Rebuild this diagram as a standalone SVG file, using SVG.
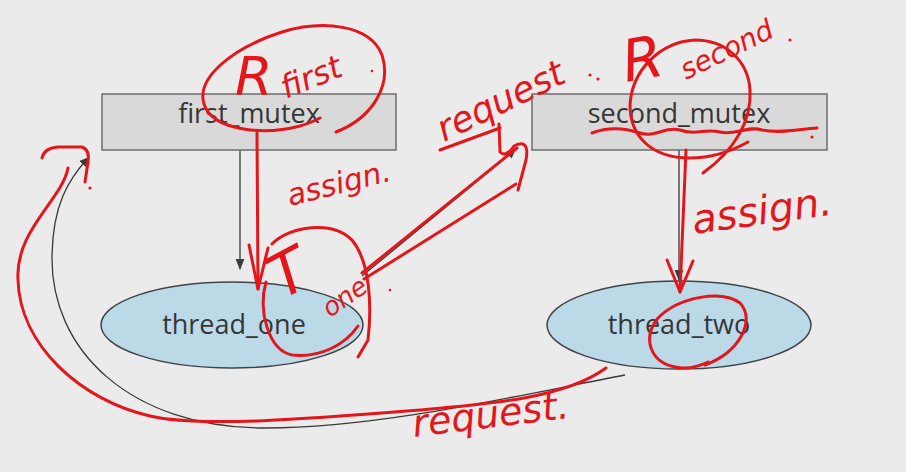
<svg xmlns="http://www.w3.org/2000/svg" width="906" height="472" viewBox="0 0 906 472">
  <defs>
    <style>
      .bg { fill: #ebebeb; }
      .box { fill: #d9d9d9; stroke: #6e6e6e; stroke-width: 1.5; }
      .ell { fill: #bcd9e8; stroke: #3f4448; stroke-width: 1.5; }
      .lbl { font-family: "Open Sans", "Liberation Sans", sans-serif; font-size: 27px; fill: #363636; text-anchor: middle; }
      .conn { fill: none; stroke: #3a3a3a; stroke-width: 1.3; }
      .ink { fill: none; stroke: #e3161b; stroke-width: 3; stroke-linecap: round; stroke-linejoin: round; }
      .hand { font-family: "DejaVu Sans", "Liberation Sans", sans-serif; fill: #e3161b; font-style: italic; }
      .dot { fill: #e3161b; }
    </style>
    <marker id="arr" viewBox="0 0 10 10" refX="9" refY="5" markerWidth="9" markerHeight="9" markerUnits="userSpaceOnUse" orient="auto">
      <path d="M0,0 L10,5 L0,10 z" fill="#3a3a3a"/>
    </marker>
    <marker id="arrL" viewBox="0 0 10 10" refX="9" refY="5" markerWidth="11" markerHeight="11" markerUnits="userSpaceOnUse" orient="auto">
      <path d="M0,1 L10,5 L0,9 z" fill="#3a3a3a"/>
    </marker>
  </defs>

  <rect class="bg" x="0" y="0" width="906" height="472"/>

  <g id="connectors">
    <circle cx="240" cy="136" r="2.5" fill="#3a3a3a"/>
    <path class="conn" d="M240,136 L240,269" marker-end="url(#arrL)"/>
    <circle cx="679" cy="136" r="2.5" fill="#3a3a3a"/>
    <path class="conn" d="M679,136 L679,280" marker-end="url(#arrL)"/>
    <path class="conn" d="M362,276 L515,150" marker-end="url(#arr)"/>
    <path class="conn" d="M625,375 C 520,395 380,428 265,428 C 130,428 50,350 52,255 C 53,205 68,180 88,158" marker-end="url(#arr)"/>
  </g>

  <g id="first_mutex">
    <rect class="box" x="102" y="94" width="294" height="56"/>
    <text class="lbl" x="249" y="123">first_mutex</text>
  </g>
  <g id="second_mutex">
    <rect class="box" x="532" y="94" width="295" height="56"/>
    <text class="lbl" x="679" y="123">second_mutex</text>
  </g>
  <g id="thread_one">
    <ellipse class="ell" cx="232" cy="325" rx="131" ry="43"/>
    <text class="lbl" x="234" y="334">thread_one</text>
  </g>
  <g id="thread_two">
    <ellipse class="ell" cx="679" cy="325" rx="132" ry="44"/>
    <text class="lbl" x="679" y="334">thread_two</text>
  </g>

  <g id="annotations">
    <!-- R first ellipse -->
    <path class="ink" d="M336,132 C 372,118 392,86 382,55 C 370,24 322,20 282,32 C 232,48 196,78 204,104 C 212,130 262,136 300,126 C 308,124 314,121 320,118"/>
    <text class="hand" x="235" y="95" font-size="54">R</text>
    <text class="hand" x="286" y="99" font-size="32" transform="rotate(-22 286 99)">first</text>
    <circle class="dot" cx="372" cy="71" r="1.3"/>
    <!-- assign arrow left -->
    <path class="ink" d="M257,133 L258,289"/>
    <path class="ink" d="M249,245 L258,289 L268,248"/>
    <text class="hand" x="290" y="206" font-size="30" transform="rotate(-14 290 206)">assign.</text>
    <!-- T one circle -->
    <path class="ink" d="M272,244 C 290,226 332,220 352,240 C 370,262 372,305 368,340 L358,357"/>
    <path class="ink" d="M266,282 C 258,310 268,350 292,355 C 320,358 345,345 358,326"/>
    <text class="hand" x="282" y="300" font-size="60" transform="rotate(-28 282 300)">T</text>
    <text class="hand" x="330" y="318" font-size="26" transform="rotate(-35 330 318)">one</text>
    <circle class="dot" cx="390" cy="290" r="1.3"/>
    <!-- request arrow to second_mutex -->
    <path class="ink" d="M362,273 L517,148"/>
    <path class="ink" d="M364,279 L516,184"/>
    <path class="ink" d="M499,124 L500,152 Q506,158 514,146 Q530,138 526,160 L518,190"/>
    <path class="ink" d="M440,150 L500,128"/>
    <text class="hand" x="444" y="142" font-size="36" transform="rotate(-26 444 142)">request</text>
    <circle class="dot" cx="590" cy="75" r="1.6"/>
    <circle class="dot" cx="598" cy="79" r="1.6"/>
    <!-- R second circle -->
    <path class="ink" d="M703,173 C 735,150 752,120 750,90 C 748,60 725,40 695,40 C 660,42 632,70 630,105 C 630,135 650,158 690,158 C 710,158 730,152 748,142"/>
    <text class="hand" x="626" y="82" font-size="58" transform="rotate(-10 626 82)">R</text>
    <text class="hand" x="686" y="80" font-size="28" transform="rotate(-26 686 80)">second</text>
    <circle class="dot" cx="790" cy="40" r="1.6"/>
    <!-- wavy underline -->
    <path class="ink" d="M592,133 C 610,126 625,128 640,133 C 655,138 665,126 680,130 C 695,136 705,128 720,132 C 735,136 748,125 762,130 C 780,134 800,129 817,128"/>
    <circle class="dot" cx="812" cy="137" r="1.6"/>
    <!-- assign arrow right -->
    <path class="ink" d="M686,150 L680,292"/>
    <path class="ink" d="M667,260 L680,292 L693,261"/>
    <text class="hand" x="694" y="234" font-size="40" transform="rotate(-8 694 234)">assign.</text>
    <!-- circle in thread_two -->
    <path class="ink" d="M705,365 C 740,352 756,320 740,303 C 722,290 680,296 658,318 C 642,338 650,362 675,367 C 690,370 700,366 708,362"/>
    <!-- big request curve -->
    <path class="ink" d="M606,368 C 565,398 490,404 420,410 C 320,418 200,428 150,416 C 80,400 20,345 18,280 C 15,230 62,200 68,168"/>
    <path class="ink" d="M42,158 Q44,148 58,147 L82,147 Q90,150 88,162 L85,182"/>
    <circle class="dot" cx="90" cy="188" r="1.6"/>
    <text class="hand" x="414" y="437" font-size="38" transform="rotate(-7 414 437)">request.</text>
  </g>
</svg>
